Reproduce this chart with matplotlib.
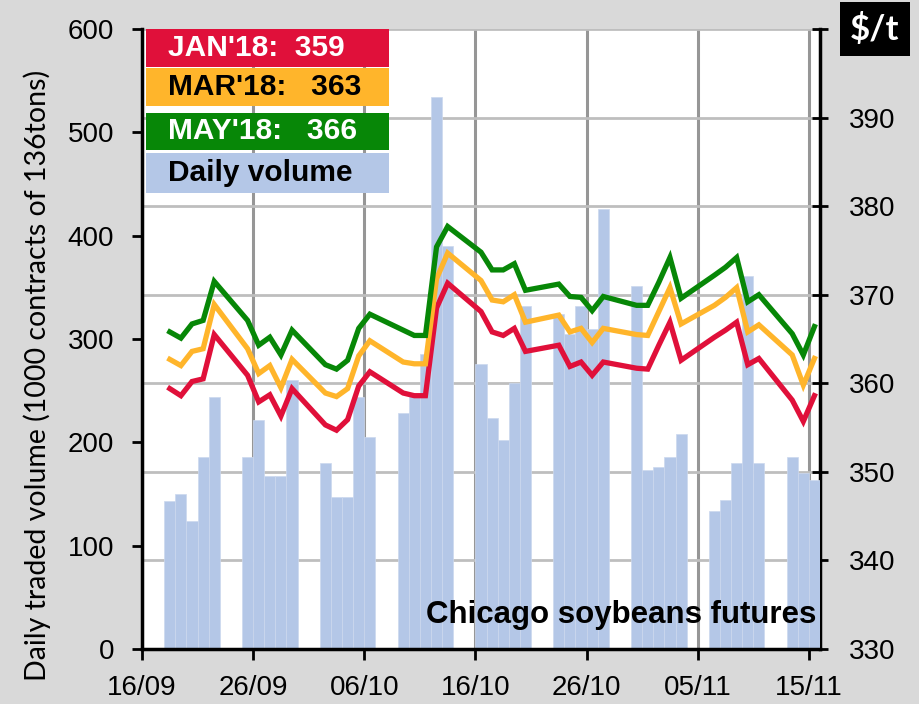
import matplotlib
matplotlib.use("Agg")
import matplotlib.pyplot as plt
import matplotlib.dates as mdates
from matplotlib.patches import Rectangle
import pandas as pd

# trading days 18/09 - 15/11 2017
days = pd.bdate_range("2017-09-18", "2017-11-15")

# daily volume, 1000 contracts
volume = [143, 150, 124, 186, 244,
          186, 222, 167, 167, 260,
          180, 147, 147, 244, 205,
          228, 247, 285, 534, 390,
          276, 224, 202, 257, 332,
          324, 305, 332, 310, 426,
          351, 173, 176, 186, 208,
          134, 144, 180, 361, 180,
          186, 170, 164]

# settlement prices $/t
jan18 = [359.4, 358.6, 360.2, 360.5, 365.5,
         360.9, 357.9, 358.7, 356.3, 359.4,
         355.3, 354.7, 355.9, 359.7, 361.3,
         358.9, 358.6, 358.6, 368.5, 371.3,
         368.1, 365.8, 365.4, 366.2, 363.6,
         364.3, 361.9, 362.4, 360.9, 362.4,
         361.7, 361.6, 364.3, 366.9, 362.6,
         365.2, 366.0, 366.9, 362.1, 362.8,
         358.1, 355.7, 358.6]
mar18 = [362.7, 362.0, 363.6, 363.9, 368.9,
         363.9, 361.1, 362.0, 359.5, 362.7,
         358.9, 358.5, 359.4, 363.1, 364.8,
         362.4, 362.2, 362.2, 371.8, 374.7,
         371.6, 369.4, 369.2, 370.0, 366.9,
         367.7, 365.8, 366.2, 364.6, 366.2,
         365.5, 365.4, 368.1, 370.8, 366.7,
         368.8, 369.7, 370.8, 365.8, 366.6,
         363.2, 359.8, 362.8]
may18 = [365.8, 365.1, 366.7, 367.1, 371.5,
         367.1, 364.3, 365.2, 363.2, 366.0,
         362.1, 361.6, 362.6, 366.2, 367.8,
         366.0, 365.4, 365.4, 375.4, 377.7,
         374.8, 372.8, 372.8, 373.5, 370.5,
         371.2, 369.8, 369.7, 368.2, 369.8,
         368.8, 368.8, 371.4, 374.2, 369.6,
         372.2, 373.1, 374.2, 369.2, 370.0,
         365.6, 363.2, 366.4]

legend_labels = ["JAN'18:  359", "MAR'18:   363", "MAY'18:   366", "Daily volume"]
legend_colors = ["#E0103A", "#FFB52B", "#078707", "#B4C7E7"]
legend_text_colors = ["white", "black", "white", "black"]

RED, ORANGE, GREEN, BLUE = legend_colors

plt.rcParams["font.family"] = ["Liberation Sans", "DejaVu Sans"]

fig = plt.figure(figsize=(9.2, 7.04), dpi=100)
fig.patch.set_facecolor("#D9D9D9")

rect = [142 / 920, 1 - 649 / 704, (820 - 142) / 920, (649 - 29) / 704]
ax = fig.add_axes(rect)          # volume bars
axp = ax.twinx()                 # price scale + grid (behind)
axl = ax.twinx()                 # price lines (front)

axp.set_zorder(0)
ax.set_zorder(1)
axl.set_zorder(2)
axp.patch.set_visible(True)
axp.patch.set_facecolor("white")
ax.patch.set_visible(False)
axl.patch.set_visible(False)

ax.bar(days, volume, width=1.0, align="edge", color=BLUE,
       edgecolor="#CCD8EE", linewidth=0.5)

mid = days + pd.Timedelta(hours=12)
for series, col in [(jan18, RED), (mar18, ORANGE), (may18, GREEN)]:
    axl.plot(mid, series, color=col, lw=3.8, solid_joinstyle="miter")

x0, x1 = pd.Timestamp("2017-09-16"), pd.Timestamp("2017-11-16")
ax.set_xlim(x0, x1)
ax.set_ylim(0, 600)
axp.set_ylim(330, 400)
axl.set_ylim(330, 400)

xticks = pd.date_range("2017-09-16", periods=7, freq="10D")
ax.set_xticks(xticks)
ax.xaxis.set_major_formatter(mdates.DateFormatter("%d/%m"))
ax.set_yticks(range(0, 601, 100))
axp.set_yticks(range(330, 401, 10))
axp.set_yticklabels([str(v) if v < 400 else "" for v in range(330, 401, 10)])

ax.tick_params(axis="x", direction="out", length=8, width=2, pad=11,
               labelsize=20)
ax.tick_params(axis="y", direction="out", length=7, width=2, pad=13,
               labelsize=20)
axp.tick_params(axis="y", direction="inout", length=12, width=2, pad=15,
                labelsize=20)

# grid on the back axes
axp.xaxis.set_visible(True)
axp.tick_params(axis="x", bottom=False, labelbottom=False)
axp.grid(axis="y", color="#BEBEBE", lw=2)
axp.grid(axis="x", color="#969696", lw=2.2)
axp.set_axisbelow(True)

axl.set_yticks([])
for a in (ax, axp, axl):
    for s in a.spines.values():
        s.set_visible(False)
ax.spines["left"].set_visible(True)
ax.spines["bottom"].set_visible(True)
axp.spines["right"].set_visible(True)
for s in (ax.spines["left"], ax.spines["bottom"], axp.spines["right"]):
    s.set_linewidth(2.5)
    s.set_color("black")

fig.text(37 / 920, 1 - 375 / 704,
         "Daily traded volume (1000 contracts of 136tons)",
         rotation=90, ha="center", va="center", fontsize=20.5,
         family=["Lato", "DejaVu Sans"])

# legend boxes
rows = [(0.9395, 1.0), (0.8756, 0.9363), (0.8042, 0.8652), (0.7352, 0.7994)]
for (b, t), lab, col, tcol in zip(rows, legend_labels, legend_colors,
                                  legend_text_colors):
    axl.add_patch(Rectangle((0.006, b), 0.359, t - b, transform=axl.transAxes,
                            facecolor=col, edgecolor="none", zorder=5,
                            clip_on=False))
    axl.text(0.038, (b + t) / 2, lab, transform=axl.transAxes, color=tcol,
             fontsize=21.5, fontweight="bold", va="center", ha="left",
             zorder=6)

axl.text(0.994, 0.042, "Chicago soybeans futures", transform=axl.transAxes,
         ha="right", va="baseline", fontsize=22.5, fontweight="bold", zorder=6)

fig.text(875 / 920, 1 - 29 / 704, "$/t", color="white", fontsize=25,
         fontweight="bold", ha="center", va="center",
         family=["Lato", "DejaVu Sans"],
         bbox=dict(boxstyle="square,pad=0.3", facecolor="black",
                   edgecolor="none"))

fig.savefig("out.png", dpi=100, facecolor=fig.get_facecolor())
